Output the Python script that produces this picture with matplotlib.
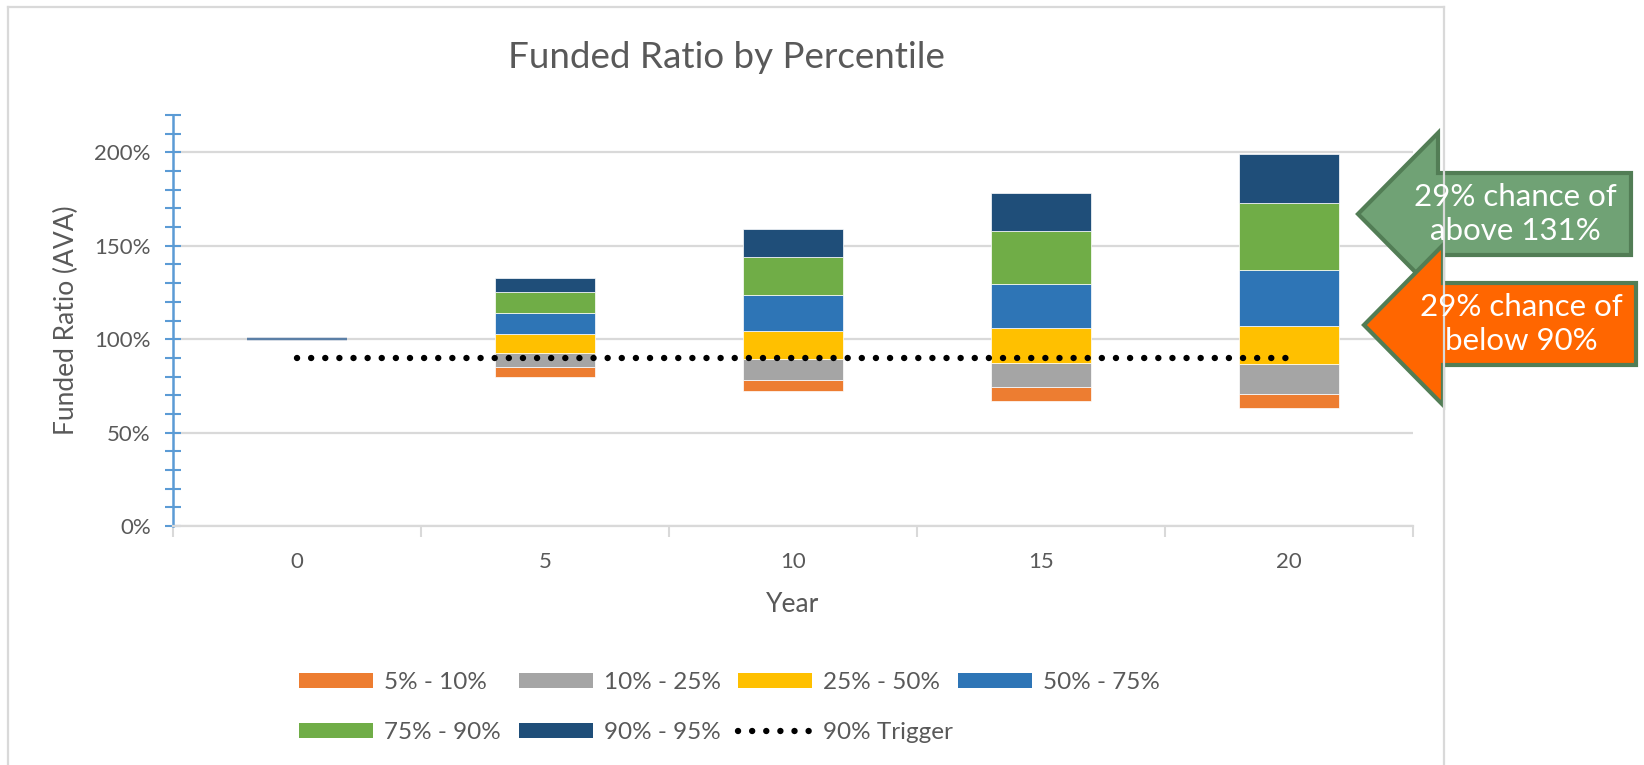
import numpy as np
import matplotlib
matplotlib.use("Agg")
import matplotlib.pyplot as plt
from matplotlib.patches import Polygon, Patch
from matplotlib.lines import Line2D
from matplotlib.ticker import PercentFormatter, MultipleLocator

plt.rcParams['font.family'] = ['Lato', 'DejaVu Sans']

# funded ratio (%) at each percentile, by year
years = ['0', '5', '10', '15', '20']
p5 = [100, 80, 72, 67, 63]
p10 = [100, 85, 78, 74.5, 70.5]
p25 = [100, 92.5, 89.5, 87, 86.5]
p50 = [100, 103, 104.5, 106, 107]
p75 = [100, 114, 123.5, 129.5, 137]
p90 = [100, 125, 144, 158, 173]
p95 = [100, 132.5, 159, 178.5, 199]
trigger = [90, 90, 90, 90, 90]

band_labels = ['5% - 10%', '10% - 25%', '25% - 50%', '50% - 75%', '75% - 90%', '90% - 95%']
band_colors = ['#ED7D31', '#A5A5A5', '#FFC000', '#2E75B6', '#70AD47', '#1F4E79']

W, H = 1644, 765
TXT = '#595959'
GRID = '#D9D9D9'


def fx(x):
    return x / W


def fy(y):
    return 1 - y / H


fig = plt.figure(figsize=(W / 100, H / 100), dpi=100)
ax = fig.add_axes([fx(173), fy(526), fx(1413 - 173), (526 - 115) / H])

x = np.arange(len(years))
levels = [p5, p10, p25, p50, p75, p90, p95]
for i in range(6):
    lo = np.array(levels[i], dtype=float)
    hi = np.array(levels[i + 1], dtype=float)
    h = hi - lo
    edges = ['#5B7FA6' if v == 0 else 'white' for v in h]
    lws = [1.5 if v == 0 else 0.5 for v in h]
    ax.bar(x, h, bottom=lo, width=0.4, color=band_colors[i],
           edgecolor=edges, linewidth=lws, zorder=3)

ax.plot(x, trigger, color='black', lw=4.6, linestyle=(0, (0.01, 2.2)),
        dash_capstyle='round', zorder=4)

ax.set_xlim(-0.5, len(years) - 0.5)
ax.set_ylim(0, 220)
ax.yaxis.set_major_locator(MultipleLocator(50))
ax.yaxis.set_minor_locator(MultipleLocator(10))
ax.yaxis.set_major_formatter(PercentFormatter(xmax=100, decimals=0))
ax.grid(axis='y', which='major', color=GRID, lw=1.6, zorder=0)

ax.set_xticks(np.arange(-0.5, len(years)), labels=[])
ax.set_xticks(x, labels=years, minor=True)
ax.tick_params(axis='x', which='major', length=8, width=1.5, color=GRID, direction='out')
ax.tick_params(axis='x', which='minor', length=0, pad=19, labelsize=16, labelcolor=TXT)
ax.tick_params(axis='y', which='both', direction='inout', length=12, width=1.5,
               color='#5B9BD5', labelsize=16, labelcolor=TXT, pad=10)

for s in ['top', 'right']:
    ax.spines[s].set_visible(False)
ax.spines['left'].set_color('#5B9BD5')
ax.spines['left'].set_linewidth(1.8)
ax.spines['bottom'].set_color(GRID)
ax.spines['bottom'].set_linewidth(1.6)

fig.text(fx(726), fy(58), 'Funded Ratio by Percentile', fontsize=26.5, color=TXT,
         ha='center', va='center')
fig.text(fx(66), fy(320), 'Funded Ratio (AVA)', fontsize=19, color=TXT,
         ha='center', va='center', rotation=90)
fig.text(fx(793), fy(604), 'Year', fontsize=19, color=TXT, ha='center', va='center')

# legend: four columns placed like the Excel legend
hnd = [Patch(facecolor=c) for c in band_colors]
hnd.append(Line2D([], [], color='black', lw=4.6, linestyle=(0, (0.01, 2.2)), dash_capstyle='round'))
lab = band_labels + ['90% Trigger']
cols = [[0, 4], [1, 5], [2, 6], [3]]
col_x = [299, 519, 738, 958]
for c, cx in zip(cols, col_x):
    lg = fig.legend([hnd[i] for i in c], [lab[i] for i in c], loc='upper left',
                    bbox_to_anchor=(fx(cx), fy(672)), frameon=False, fontsize=17.5,
                    labelcolor=TXT, handlelength=3.05, handleheight=0.62, handletextpad=0.45,
                    labelspacing=1.2, borderpad=0, borderaxespad=0)

# chart area border
for xs, ys in [([8, 8], [765, 7]), ([8, 1444], [7, 7]), ([1444, 1444], [7, 765])]:
    fig.add_artist(Line2D([fx(v) for v in xs], [fy(v) for v in ys], color=GRID, lw=1.6))

# callout arrows
green = [(1358, 214), (1438, 133), (1438, 173), (1631, 173), (1631, 255), (1438, 255), (1438, 295)]
orange = [(1364, 325), (1443, 245), (1443, 283), (1636, 283), (1636, 365), (1443, 365), (1443, 405)]
for pts, fc in [(green, '#70A275'), (orange, '#FF6600')]:
    fig.add_artist(Polygon([(fx(a), fy(b)) for a, b in pts], closed=True, transform=fig.transFigure,
                           facecolor=fc, edgecolor='#527D55', lw=3, joinstyle='miter'))
fig.text(fx(1515), fy(214), '29% chance of\nabove 131%', fontsize=22.5, color='white',
         ha='center', va='center', linespacing=1.3)
fig.text(fx(1521), fy(324), '29% chance of\nbelow 90%', fontsize=22.5, color='white',
         ha='center', va='center', linespacing=1.3)

fig.savefig('out.png', dpi=100)
